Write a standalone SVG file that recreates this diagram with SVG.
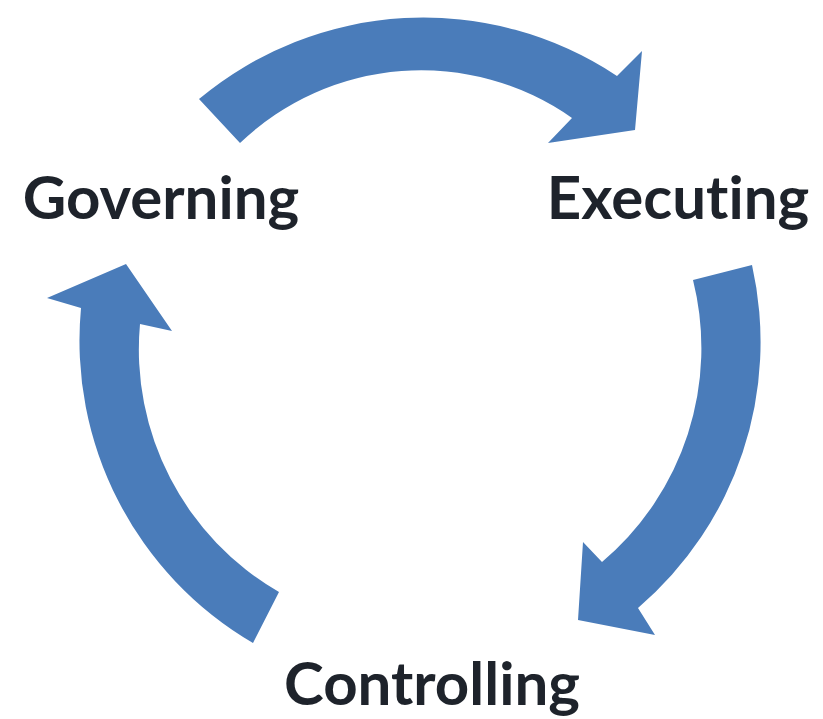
<svg xmlns="http://www.w3.org/2000/svg" width="823" height="719" viewBox="0 0 823 719">
<style>
.arrow{fill:#4a7cba}
.label{font-family:Lato,"Liberation Sans",sans-serif;font-weight:bold;font-size:60px;fill:#1e232b;text-anchor:middle;font-variant-ligatures:none;font-feature-settings:"liga" 0}
</style>
<rect width="823" height="719" fill="#ffffff"/>
<g id="connectors">
<path id="arrow-top" class="arrow" d="M 199,99 A 350 350 0 0 1 617,76 L 642,51 L 635,130 L 548,143 L 572,118 A 262 262 0 0 0 240,143 Z"/>
<path id="arrow-right" class="arrow" d="M 752,265 A 350 350 0 0 1 638,608 L 655,635 L 578,620 L 583,542 L 602,562 A 280 280 0 0 0 693,280 Z"/>
<path id="arrow-left" class="arrow" d="M 253,643 A 350 350 0 0 1 81,308 L 47,298 L 126,264 L 172,331 L 140,324 A 280 280 0 0 0 279,592 Z"/>
</g>
<g id="node-governing"><text class="label" x="161" y="219">Governing</text></g>
<g id="node-executing"><text class="label" x="678" y="219">Executing</text></g>
<g id="node-controlling"><text class="label" x="432" y="705">Controlling</text></g>
</svg>
